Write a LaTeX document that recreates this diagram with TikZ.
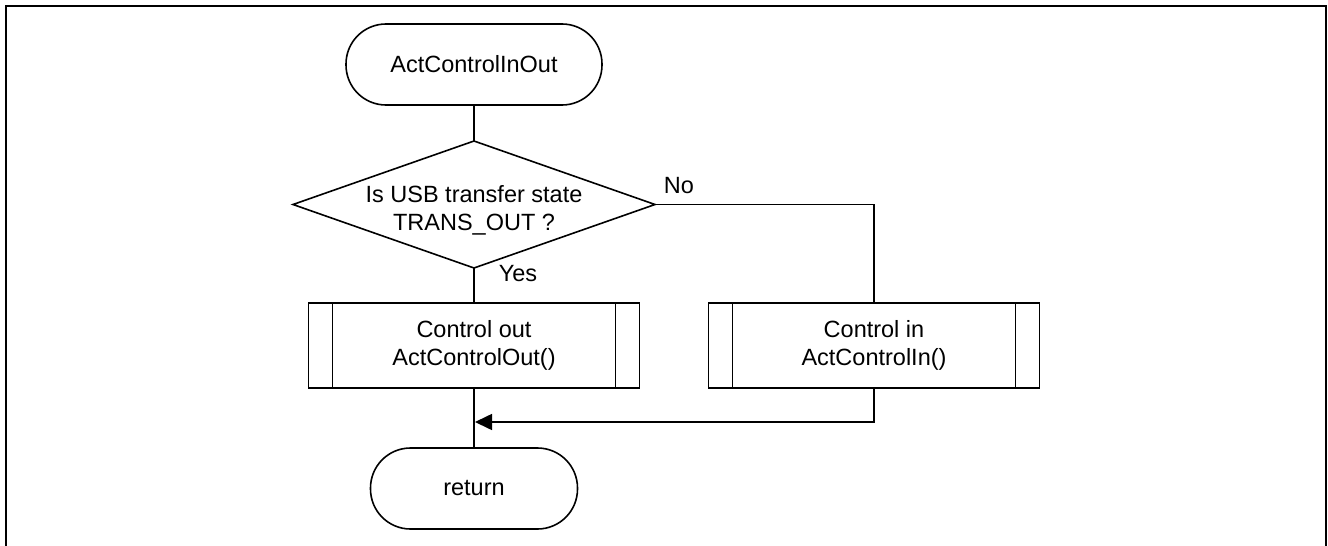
\documentclass[tikz,border=0pt]{standalone}
\usepackage{fontspec}
\setmainfont{Liberation Sans}
\usetikzlibrary{shapes.geometric,arrows.meta,calc}

\tikzset{
  flow/.style={line width=1.6pt, draw=black},
  terminal/.style={flow, rectangle, rounded corners=40pt, minimum height=81pt, inner sep=0pt, outer sep=0pt},
  decision/.style={flow, diamond, minimum width=362pt, minimum height=127pt, inner sep=0pt, outer sep=0pt},
  subproc/.style={flow, rectangle, minimum width=331pt, minimum height=85pt, inner sep=0pt, outer sep=0pt, align=center},
  txt/.style={inner sep=0pt, align=center},
  conn/.style={line width=1.6pt},
  frameline/.style={line width=2pt}
}

\begin{document}
\begin{tikzpicture}[x=1pt, y=-1pt, font=\fontsize{23.5}{28}\selectfont]
  \useasboundingbox (0,0) rectangle (1328,546);

  % open frame
  \coordinate (fbl) at (6,546);
  \coordinate (ftl) at (6,6);
  \coordinate (ftr) at (1326,6);
  \coordinate (fbr) at (1326,546);
  \draw[frameline] (fbl) -- (ftl) -- (ftr) -- (fbr);

  % shapes
  \node[terminal, minimum width=256pt] (start) at (474,64.5) {ActControlInOut};
  \node[decision] (dec) at (474,204.5) {};
  \node[txt] (dectext) at (474,210) {Is USB transfer state\\TRANS\_OUT ?};
  \node[subproc] (outbox) at (474,345.5) {Control out\\ActControlOut()};
  \node[subproc] (inbox) at (874,345.5) {Control in\\ActControlIn()};
  \node[terminal, minimum width=207pt] (ret) at (474,488.5) {return};

  % side bars of the subroutine boxes
  \foreach \b in {outbox,inbox}{
    \draw[conn] ($(\b.north west)+(24,0)$) -- ($(\b.south west)+(24,0)$);
    \draw[conn] ($(\b.north east)+(-24,0)$) -- ($(\b.south east)+(-24,0)$);
  }

  % branch labels
  \node[txt] (yes) at (518,274) {Yes};
  \node[txt] (no) at (679,186) {No};

  % connectors
  \coordinate (merge) at (475,422);
  \draw[conn] (start.south) -- (dec.north);
  \draw[conn] (dec.south) -- (outbox.north);
  \draw[conn] (dec.east) -| (inbox.north);
  \draw[conn] (outbox.south) -- (ret.north);
  \draw[conn, -{Triangle[length=17pt,width=16pt]}] (inbox.south) |- (merge);
\end{tikzpicture}
\end{document}
